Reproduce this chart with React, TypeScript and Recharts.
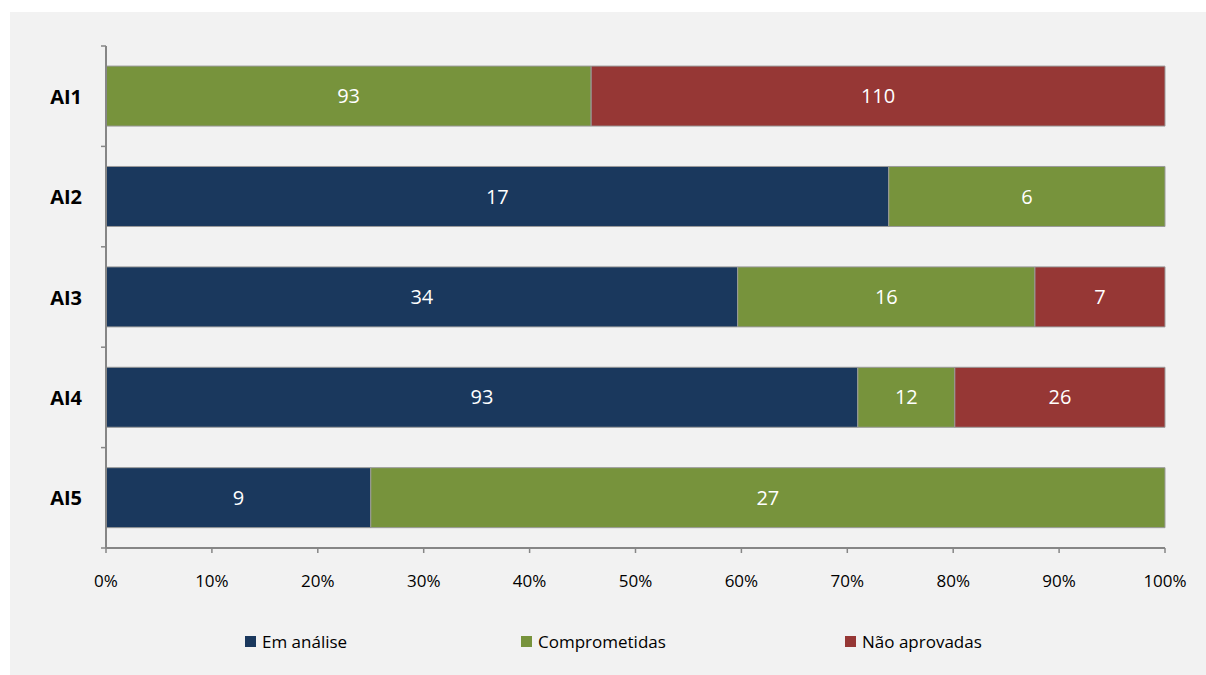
import React from "react";
import {
  BarChart,
  Bar,
  XAxis,
  YAxis,
  Legend,
  LabelList,
} from "recharts";

const categories = ["AI1", "AI2", "AI3", "AI4", "AI5"];
const emAnalise = [0, 17, 34, 93, 9];
const comprometidas = [93, 6, 16, 12, 27];
const naoAprovadas = [110, 0, 7, 26, 0];
const xTicks = [0, 0.1, 0.2, 0.3, 0.4, 0.5, 0.6, 0.7, 0.8, 0.9, 1];

const series = [
  { key: "emAnalise", name: "Em análise", color: "#1A385D" },
  { key: "comprometidas", name: "Comprometidas", color: "#77933C" },
  { key: "naoAprovadas", name: "Não aprovadas", color: "#963735" },
];

const data = categories.map((name, i) => ({
  name,
  emAnalise: emAnalise[i],
  comprometidas: comprometidas[i],
  naoAprovadas: naoAprovadas[i],
}));

const W = 1196;
const H = 663;
const MARGIN = { top: 34, right: 41, left: 0, bottom: 87 };
const X_AXIS_H = 40;
const PLOT_H = H - MARGIN.top - MARGIN.bottom - X_AXIS_H;
const BAND = PLOT_H / categories.length;
const FONT = "'Open Sans', sans-serif";
const AXIS_COLOR = "#868686";
const Y_TICK_MARGIN = 19;

// Excel puts the category ticks on band boundaries, so draw them here
const CategoryTick = (props: any) => {
  const { x, y, payload, index } = props;
  const lx = x + Y_TICK_MARGIN;
  return (
    <g>
      <text
        x={x}
        y={y}
        textAnchor="end"
        dominantBaseline="central"
        fontFamily={FONT}
        fontWeight="bold"
        fontSize={20}
        fill="#000"
      >
        {payload.value}
      </text>
      <line x1={lx} x2={lx + 5} y1={y - BAND / 2} y2={y - BAND / 2} stroke={AXIS_COLOR} strokeWidth={1.5} />
      {index === categories.length - 1 && (
        <line x1={lx} x2={lx + 5} y1={y + BAND / 2} y2={y + BAND / 2} stroke={AXIS_COLOR} strokeWidth={1.5} />
      )}
    </g>
  );
};

const legendLeft = [235, 511, 835];

const renderLegend = () => (
  <div style={{ position: "relative", width: W, height: 24 }}>
    {series.map((s, i) => (
      <div
        key={s.key}
        style={{
          position: "absolute",
          left: legendLeft[i],
          top: 0,
          height: 24,
          display: "flex",
          alignItems: "center",
          fontFamily: FONT,
          fontSize: 17,
          color: "#000",
          whiteSpace: "nowrap",
        }}
      >
        <span style={{ width: 11, height: 11, background: s.color, marginRight: 6, display: "inline-block" }} />
        {s.name}
      </div>
    ))}
  </div>
);

const labelFormatter = (v: any) => (v ? v : "");

export default function App() {
  return (
    <div
      style={{
        position: "absolute",
        left: 10,
        top: 12,
        width: W,
        height: H,
        background: "#F2F2F2",
      }}
    >
      <BarChart
        width={W}
        height={H}
        data={data}
        layout="vertical"
        stackOffset="expand"
        margin={MARGIN}
        barCategoryGap="20%"
      >
        <XAxis
          type="number"
          domain={[0, 1]}
          ticks={xTicks}
          interval={0}
          height={X_AXIS_H}
          tickFormatter={(v: number) => `${Math.round(v * 100)}%`}
          tickSize={5}
          tickMargin={22}
          axisLine={{ stroke: AXIS_COLOR, strokeWidth: 2 }}
          tickLine={{ stroke: AXIS_COLOR, strokeWidth: 1.5 }}
          tick={{ fill: "#000", fontFamily: FONT, fontSize: 17 }}
        />
        <YAxis
          type="category"
          dataKey="name"
          width={96}
          tickSize={5}
          tickMargin={Y_TICK_MARGIN}
          tickLine={false}
          axisLine={{ stroke: AXIS_COLOR, strokeWidth: 2 }}
          tick={<CategoryTick />}
          interval={0}
        />
        <Legend
          layout="horizontal"
          verticalAlign="middle"
          content={renderLegend}
          wrapperStyle={{ top: 617, left: 0, width: W, height: 24 }}
        />
        {series.map((s) => (
          <Bar
            key={s.key}
            dataKey={s.key}
            name={s.name}
            stackId="a"
            fill={s.color}
            stroke="#9a9a9a"
            strokeWidth={1}
            isAnimationActive={false}
          >
            <LabelList
              dataKey={s.key}
              position="center"
              formatter={labelFormatter}
              fill="#fff"
              fontFamily={FONT}
              fontSize={20}
            />
          </Bar>
        ))}
      </BarChart>
    </div>
  );
}
